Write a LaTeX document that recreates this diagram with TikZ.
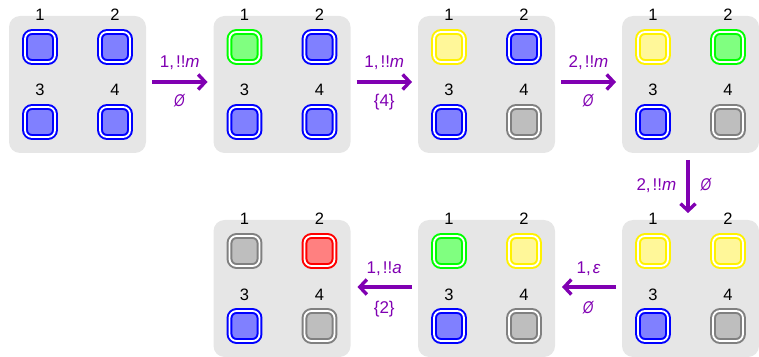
\documentclass[tikz,border=0pt]{standalone}
\usepackage{fontspec}
\usepackage{graphicx}
\setmainfont{Liberation Sans}
\usetikzlibrary{arrows.meta}
\definecolor{mypurple}{RGB}{128,0,178}
\definecolor{boxgray}{RGB}{230,230,230}
\definecolor{bluefill}{RGB}{128,128,255}
\definecolor{greenfill}{RGB}{128,255,128}
\definecolor{yellowfill}{RGB}{255,247,153}
\definecolor{grayfill}{RGB}{190,190,190}
\definecolor{redfill}{RGB}{255,128,128}
\tikzset{
 bg/.style={rectangle, rounded corners=11pt, fill=boxgray, minimum size=137pt, inner sep=0pt, outer sep=0pt},
 cell/.style={rectangle, rounded corners=7pt, minimum size=30pt, inner sep=0pt, line width=2pt, double=white, double distance=1.8pt, draw=#1, fill=#1fill},
 num/.style={font=\fontsize{16.5}{16.5}\selectfont, anchor=base, inner sep=0pt},
 arr/.style={draw=mypurple, line width=3.4pt, -{Straight Barb[length=7pt,width=15pt]}},
 lab/.style={text=mypurple, font=\fontsize{17}{17}\selectfont, inner sep=0pt, anchor=base},
}
\newcommand\emp{\scalebox{0.8}[1]{\textit{Ø}}}
\newcommand\lab[2]{#1,\hspace{2pt}#2}
\newcommand\statebox[6]{%
 \node[bg] (#1) at (#2) {};
 \begin{scope}[shift={(#2)}]
  \node[cell=#3] (#1-1) at (-37.5,37.5) {};
  \node[cell=#4] (#1-2) at (37.5,37.5) {};
  \node[cell=#5] (#1-3) at (-37.5,-37.5) {};
  \node[cell=#6] (#1-4) at (37.5,-37.5) {};
  \node[num] (#1-l1) at (-37.5,63.5) {1};
  \node[num] (#1-l2) at (37.5,63.5) {2};
  \node[num] (#1-l3) at (-37.5,-11.5) {3};
  \node[num] (#1-l4) at (37.5,-11.5) {4};
 \end{scope}}
\begin{document}
\begin{tikzpicture}[x=1pt,y=1pt]
\useasboundingbox (0,0) rectangle (759,356);
\statebox{A}{77.5,271.5}{blue}{blue}{blue}{blue}
\statebox{B}{282,271.5}{green}{blue}{blue}{blue}
\statebox{C}{486.5,271.5}{yellow}{blue}{blue}{gray}
\statebox{D}{690.5,271.5}{yellow}{green}{blue}{gray}
\statebox{E}{690.5,67.5}{yellow}{yellow}{blue}{gray}
\statebox{F}{486.5,67.5}{green}{yellow}{blue}{gray}
\statebox{G}{282,67.5}{gray}{red}{blue}{gray}

\draw[arr, shorten <=6pt, shorten >=6pt] ([yshift=2.5pt]A.east) -- ([yshift=2.5pt]B.west)
  node[midway, lab, yshift=14.5pt] {\lab{1}{!!\textit{m}}}
  node[midway, lab, yshift=-25pt] {\emp};
\draw[arr, shorten <=6pt, shorten >=6pt] ([yshift=2.5pt]B.east) -- ([yshift=2.5pt]C.west)
  node[midway, lab, yshift=14.5pt] {\lab{1}{!!\textit{m}}}
  node[midway, lab, yshift=-25pt] {\{4\}};
\draw[arr, shorten <=6pt, shorten >=6pt] ([yshift=2.5pt]C.east) -- ([yshift=2.5pt]D.west)
  node[midway, lab, yshift=14.5pt] {\lab{2}{!!\textit{m}}}
  node[midway, lab, yshift=-25pt] {\emp};
\draw[arr, shorten <=7pt, shorten >=7pt] ([xshift=-2.5pt]D.south) -- ([xshift=-2.5pt]E.north)
  node[midway, lab, anchor=base east, xshift=-10pt, yshift=-4.5pt] {\lab{2}{!!\textit{m}}}
  node[midway, lab, anchor=base west, xshift=11pt, yshift=-4.5pt] {\emp};
\draw[arr, shorten <=6pt, shorten >=7pt] ([yshift=1.5pt]E.west) -- ([yshift=1.5pt]F.east)
  node[midway, lab, yshift=13.5pt] {\lab{1}{\textit{ε}}}
  node[midway, lab, yshift=-26pt] {\emp};
\draw[arr, shorten <=6pt, shorten >=7pt] ([yshift=1.5pt]F.west) -- ([yshift=1.5pt]G.east)
  node[midway, lab, yshift=13.5pt] {\lab{1}{!!\textit{a}}}
  node[midway, lab, yshift=-26pt] {\{2\}};
\end{tikzpicture}
\end{document}
